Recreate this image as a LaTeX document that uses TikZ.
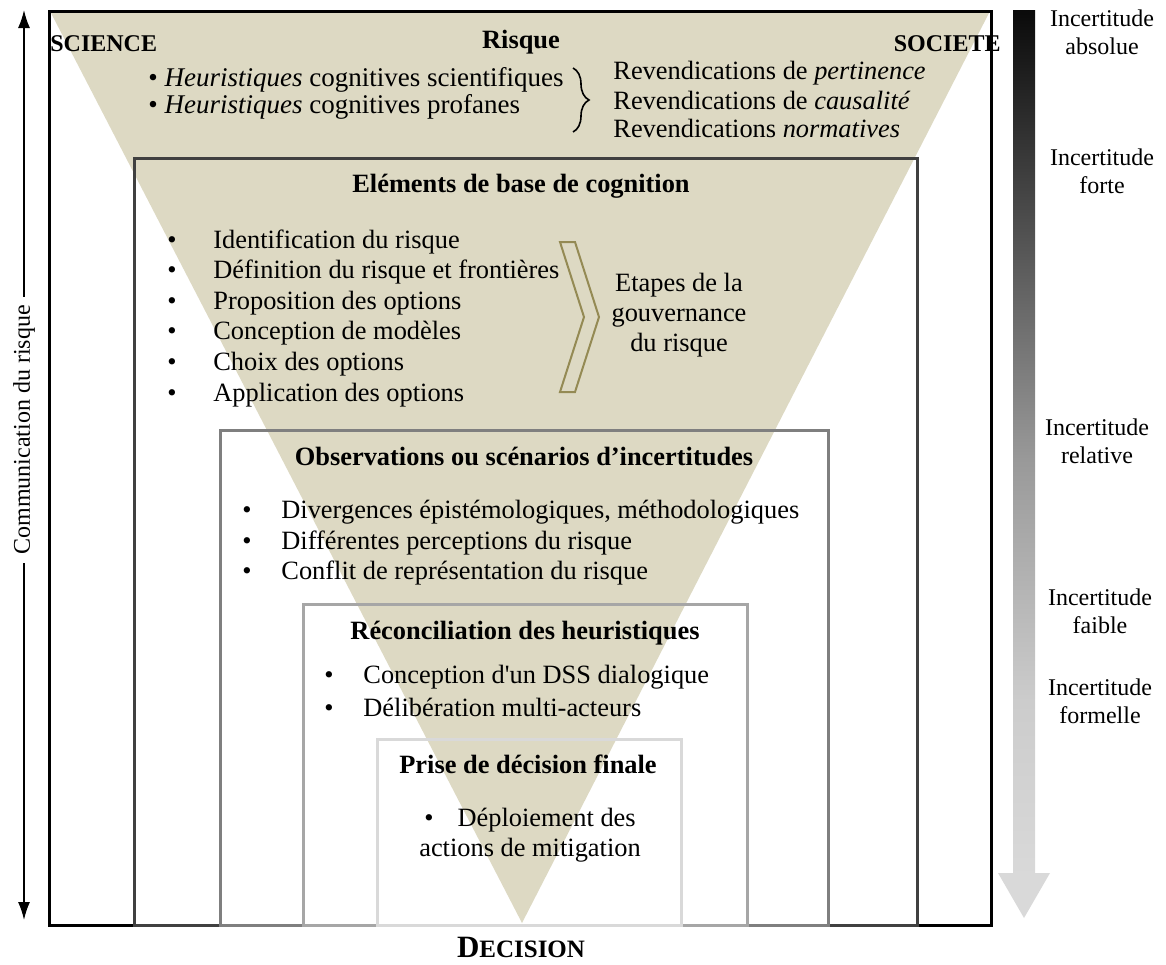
\documentclass[tikz,border=0pt]{standalone}
\usepackage{fontspec}
\setmainfont{Liberation Serif}
\usetikzlibrary{calc}
\usetikzlibrary{positioning}
\usetikzlibrary{arrows.meta}
\usetikzlibrary{decorations.pathreplacing}

\definecolor{funnel}{HTML}{DDD9C3}
\definecolor{chevron}{HTML}{948A54}
\definecolor{frameA}{HTML}{404040}
\definecolor{frameB}{HTML}{7F7F7F}
\definecolor{frameC}{HTML}{A6A6A6}
\definecolor{frameD}{HTML}{D9D9D9}
\definecolor{barlow}{gray}{0.85}
\definecolor{barmid}{gray}{0.80}
\definecolor{barhalf}{gray}{0.60}
\definecolor{bartop}{gray}{0.04}
\pgfdeclareverticalshading{uncertainty}{100bp}{color(0bp)=(barlow); color(25bp)=(barlow); color(35bp)=(barmid); color(49bp)=(barhalf); color(75bp)=(bartop); color(100bp)=(bartop)}

\newcommand{\diagfont}{\fontsize{13.2}{15.5}\selectfont}

\begin{document}
\begin{tikzpicture}[x=0.5pt, y=-0.5pt,
  every node/.style={inner sep=0pt, font=\diagfont},
  heading/.style={font=\diagfont\bfseries},
  listitem/.style={anchor=west},
  unclabel/.style={align=center, font=\fontsize{12}{14}\selectfont},
  boxline/.style={line width=1.5pt}]
\useasboundingbox (0,0) rectangle (1166,964);

% points def
\coordinate (Apex) at (522,923);
\coordinate (ctop) at (24,10);
\coordinate (cbot) at (24,920);
\coordinate (brtop) at (573,68);
\coordinate (brbot) at (573,132);

% funnel
\fill[funnel] (51,13) -- (989,13) -- (Apex) -- cycle;

% frames, outer one first
\draw[boxline, black] (49,11) rectangle (991,925);
\draw[boxline, frameA] (134,158) rectangle (917,925);
\draw[boxline, frameB] (220,430) rectangle (828,925);
\draw[boxline, frameC] (303,604) rectangle (747,925);
\draw[boxline, frameD] (377,739) rectangle (681,925);

% top part
\node[heading, font=\fontsize{12}{14}\selectfont\bfseries, anchor=west] (science) at (50,44) {SCIENCE};
\node[heading] (risque) at (521,42) {Risque};
\node[heading, font=\fontsize{12}{14}\selectfont\bfseries, anchor=east] (societe) at (1001,44) {SOCIETE};
\node[listitem, font=\fontsize{13.5}{15.5}\selectfont] (heur1) at (148,80) {\textbullet\ \textit{Heuristiques} cognitives scientifiques};
\node[listitem, font=\fontsize{13.5}{15.5}\selectfont] (heur2) at (148,107) {\textbullet\ \textit{Heuristiques} cognitives profanes};
\draw[decorate, decoration={brace, amplitude=8pt}, line width=0.8pt] (brtop) -- (brbot);
\node[listitem] (rev1) at (613,73) {Revendications de \textit{pertinence}};
\node[listitem] (rev2) at (613,100) {Revendications de \textit{causalité}};
\node[listitem] (rev3) at (613,128) {Revendications \textit{normatives}};

% cognition
\node[heading] (elements) at (521,186) {Eléments de base de cognition};
\node[listitem] (cog1) at (167,242) {\makebox[23pt][l]{\textbullet}Identification du risque};
\node[listitem] (cog2) at (167,272) {\makebox[23pt][l]{\textbullet}Définition du risque et frontières};
\node[listitem] (cog3) at (167,303) {\makebox[23pt][l]{\textbullet}Proposition des options};
\node[listitem] (cog4) at (167,333) {\makebox[23pt][l]{\textbullet}Conception de modèles};
\node[listitem] (cog5) at (167,364) {\makebox[23pt][l]{\textbullet}Choix des options};
\node[listitem] (cog6) at (167,395) {\makebox[23pt][l]{\textbullet}Application des options};
\draw[chevron, line width=1pt] (560,242) -- (575,242) -- (599,317) -- (575,392) -- (560,392) -- (584,317) -- cycle;
\node[align=center, font=\fontsize{13.2}{15}\selectfont] (etapes) at (679,315) {Etapes de la\\gouvernance\\du risque};

% incertitudes
\node[heading] (observ) at (524,456) {Observations ou scénarios d’incertitudes};
\node[listitem] (obs1) at (242,512) {\makebox[19.5pt][l]{\textbullet}Divergences épistémologiques, méthodologiques};
\node[listitem] (obs2) at (242,543) {\makebox[19.5pt][l]{\textbullet}Différentes perceptions du risque};
\node[listitem] (obs3) at (242,573) {\makebox[19.5pt][l]{\textbullet}Conflit de représentation du risque};

% reconciliation
\node[heading] (reconc) at (525,633) {Réconciliation des heuristiques};
\node[listitem] (rec1) at (324,677) {\makebox[19.5pt][l]{\textbullet}Conception d\textquotesingle un DSS dialogique};
\node[listitem] (rec2) at (324,707) {\makebox[19.5pt][l]{\textbullet}Délibération multi-acteurs};

% decision
\node[heading] (prise) at (528,764) {Prise de décision finale};
\node[align=center, font=\fontsize{13.2}{15}\selectfont] (deploy) at (530,835) {\textbullet\hspace{12pt}Déploiement des\\actions de mitigation};
\node[font=\bfseries, anchor=base] (decision) at (521,957) {{\fontsize{15.5}{18}\selectfont D}{\fontsize{12.5}{14}\selectfont ECISION}};

% communication arrow
\node[rotate=90, inner sep=4pt, font=\fontsize{12}{14}\selectfont] (comm) at (24,430) {Communication du risque};
\draw[line width=0.8pt, -{Latex[length=9pt, width=6pt]}] (comm.east) -- (ctop);
\draw[line width=0.8pt, -{Latex[length=9pt, width=6pt]}] (comm.west) -- (cbot);

% uncertainty scale
\shade[shading=uncertainty] (1013,10) rectangle (1035,874);
\fill[barlow] (998,873) -- (1050,873) -- (1024,918) -- cycle;
\node[unclabel] (absolue) at (1102,32) {Incertitude\\absolue};
\node[unclabel] (forte) at (1102,171) {Incertitude\\forte};
\node[unclabel] (relative) at (1097,441) {Incertitude\\relative};
\node[unclabel] (faible) at (1100,611) {Incertitude\\faible};
\node[unclabel] (formelle) at (1100,701) {Incertitude\\formelle};
\end{tikzpicture}
\end{document}
